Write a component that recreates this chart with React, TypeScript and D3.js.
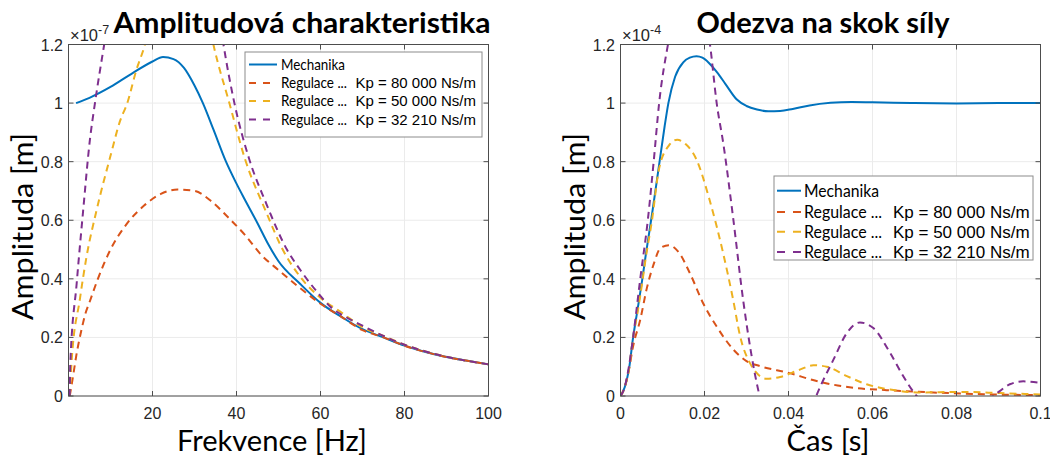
import React from 'react';
import * as d3 from 'd3';

const W = 1050;
const H = 458;

const BLUE = '#0072BD';
const RED = '#D95319';
const YELLOW = '#EDB120';
const PURPLE = '#7E2F8E';

// amplitudova charakteristika: frekvence [Hz], amplituda [x1e-7 m]
const freqMech = [1.8, 5, 10, 15, 20, 22.5, 25, 27.5, 30, 32, 34.5, 37.5, 40, 42, 45, 47.5, 50, 55, 60, 65, 70, 75, 80, 85, 90, 95, 100];
const ampMech = [1.0, 1.018, 1.055, 1.1, 1.142, 1.157, 1.15, 1.12, 1.06, 1.0, 0.91, 0.8, 0.725, 0.67, 0.59, 0.52, 0.46, 0.385, 0.318, 0.27, 0.228, 0.2, 0.172, 0.15, 0.133, 0.12, 0.108];

const freq80 = [0.3, 1, 2, 3, 4, 5, 7, 10, 14, 18, 22, 26, 30, 34, 38, 42, 46, 50, 55, 60, 65, 70, 75, 80, 85, 90, 95, 100];
const amp80 = [0.0, 0.06, 0.15, 0.22, 0.28, 0.32, 0.4, 0.5, 0.59, 0.65, 0.69, 0.705, 0.7, 0.665, 0.61, 0.55, 0.48, 0.43, 0.37, 0.315, 0.27, 0.225, 0.2, 0.172, 0.15, 0.133, 0.12, 0.108];

const freq50 = [0.3, 0.75, 2.7, 4.3, 6.7, 10, 12.3, 14, 16.2, 18, 22, 26, 30, 34.5, 38.3, 42, 47, 51, 55, 60, 65, 70, 75, 80, 85, 90, 95, 100];
const amp50 = [0, 0.12, 0.33, 0.476, 0.635, 0.82, 0.94, 1.0, 1.115, 1.19, 1.45, 1.65, 1.55, 1.2, 1.0, 0.81, 0.63, 0.5, 0.41, 0.335, 0.285, 0.235, 0.205, 0.175, 0.152, 0.134, 0.12, 0.108];

const freq32 = [0.3, 0.4, 1.95, 3.5, 5.1, 6.3, 8.5, 12, 18, 24, 30, 34, 36.9, 39.5, 43, 47, 52, 55.2, 59.5, 62.7, 66, 70, 75, 80, 85, 90, 95, 100];
const amp32 = [0, 0.1, 0.385, 0.635, 0.875, 1.0, 1.2, 1.5, 2.0, 2.3, 2.0, 1.5, 1.2, 1.0, 0.81, 0.66, 0.5, 0.43, 0.35, 0.3, 0.27, 0.24, 0.205, 0.175, 0.152, 0.134, 0.12, 0.108];

// odezva na skok sily: cas [s], amplituda [x1e-4 m]
const timeMech = [0, 0.001, 0.002, 0.003, 0.004, 0.0052, 0.006, 0.0075, 0.0093, 0.0105, 0.0114, 0.013, 0.015, 0.0165, 0.0181, 0.0195, 0.021, 0.023, 0.025, 0.0277, 0.03, 0.0325, 0.0352, 0.038, 0.041, 0.045, 0.05, 0.055, 0.06, 0.065, 0.07, 0.08, 0.09, 0.1];
const stepMech = [0, 0.03, 0.09, 0.2, 0.29, 0.4, 0.48, 0.62, 0.8, 0.92, 1.0, 1.09, 1.14, 1.155, 1.16, 1.155, 1.138, 1.105, 1.065, 1.012, 0.99, 0.978, 0.972, 0.973, 0.98, 0.992, 1.001, 1.004, 1.003, 1.001, 1.0, 0.999, 1.0, 1.0];

const time80 = [0, 0.001, 0.002, 0.003, 0.0047, 0.0063, 0.0079, 0.0095, 0.0115, 0.0139, 0.0165, 0.0197, 0.0229, 0.0269, 0.03, 0.0332, 0.04, 0.0467, 0.0554, 0.0634, 0.0745, 0.0864, 0.1];
const step80 = [0, 0.03, 0.09, 0.17, 0.26, 0.37, 0.45, 0.505, 0.515, 0.49, 0.42, 0.316, 0.237, 0.158, 0.119, 0.102, 0.079, 0.051, 0.028, 0.02, 0.012, 0.006, 0.003];

const time50 = [0, 0.001, 0.002, 0.003, 0.004, 0.0052, 0.006, 0.0075, 0.0091, 0.0115, 0.0135, 0.0155, 0.018, 0.0212, 0.0244, 0.0268, 0.0285, 0.0308, 0.0348, 0.038, 0.0427, 0.0459, 0.0491, 0.0539, 0.0586, 0.0642, 0.0713, 0.0808, 0.0904, 0.1];
const step50 = [0, 0.03, 0.09, 0.2, 0.28, 0.39, 0.47, 0.6, 0.77, 0.855, 0.875, 0.86, 0.81, 0.67, 0.49, 0.33, 0.203, 0.113, 0.059, 0.065, 0.09, 0.105, 0.1, 0.068, 0.04, 0.022, 0.012, 0.014, 0.01, 0.005];

const time32 = [0, 0.001, 0.002, 0.003, 0.0047, 0.0065, 0.0079, 0.0092, 0.0113, 0.013, 0.016, 0.019, 0.0213, 0.0229, 0.0245, 0.0268, 0.0292, 0.0328, 0.036, 0.04, 0.044, 0.0466, 0.0507, 0.0539, 0.057, 0.0602, 0.0642, 0.0673, 0.0705, 0.075, 0.08, 0.085, 0.0888, 0.0927, 0.0959, 0.1];
const step32 = [0, 0.03, 0.1, 0.2, 0.4, 0.6, 0.8, 1.0, 1.2, 1.32, 1.4, 1.36, 1.2, 1.0, 0.86, 0.61, 0.328, 0.02, -0.12, -0.17, -0.1, 0, 0.124, 0.215, 0.251, 0.232, 0.147, 0.068, 0, -0.05, -0.07, -0.04, 0, 0.04, 0.05, 0.045];

const yTicks = [0, 0.2, 0.4, 0.6, 0.8, 1, 1.2];
const freqTicks = [20, 40, 60, 80, 100];
const timeTicks = [0, 0.02, 0.04, 0.06, 0.08, 0.1];

const legendNames = ['Mechanika', 'Regulace ...', 'Regulace ...', 'Regulace ...'];
const legendKp = ['', 'Kp = 80 000 Ns/m', 'Kp = 50 000 Ns/m', 'Kp = 32 210 Ns/m'];
const colors = [BLUE, RED, YELLOW, PURPLE];

const zip = (xs: number[], ys: number[]) => xs.map((v, i) => [v, ys[i]] as [number, number]);

const TICK_FONT = '"Liberation Sans", Arial, sans-serif';
const LABEL_FONT = 'Lato, "Open Sans", sans-serif';

function Panel(p: any) {
  const { id, left, right, top, bottom, xDomain, xTicks, xFmt, series } = p;
  const x = d3.scaleLinear().domain(xDomain).range([left, right]);
  const y = d3.scaleLinear().domain([0, 1.2]).range([bottom, top]);
  const line = d3.line<[number, number]>()
    .x(d => x(d[0]))
    .y(d => y(d[1]))
    .curve(d3.curveMonotoneX);
  const tl = 5;
  const lg = p.legend;

  return (
    <g>
      <defs>
        <clipPath id={id}>
          <rect x={left} y={top} width={right - left} height={bottom - top} />
        </clipPath>
      </defs>
      <rect x={left} y={top} width={right - left} height={bottom - top} fill="#fff" />
      {/* grid */}
      {xTicks.map((t: number) => (
        <line key={'gx' + t} x1={x(t)} x2={x(t)} y1={top} y2={bottom} stroke="#ebebeb" strokeWidth={1} />
      ))}
      {yTicks.map(t => (
        <line key={'gy' + t} x1={left} x2={right} y1={y(t)} y2={y(t)} stroke="#ebebeb" strokeWidth={1} />
      ))}
      {/* curves */}
      <g clipPath={`url(#${id})`}>
        {series.map((s: [number, number][], i: number) => (
          <path key={i} d={line(s) || ''} fill="none" stroke={colors[i]}
            strokeWidth={2} strokeDasharray={i === 0 ? undefined : '7,5'} />
        ))}
      </g>
      {/* box and ticks */}
      <rect x={left} y={top} width={right - left} height={bottom - top} fill="none" stroke="#4d4d4d" strokeWidth={1} />
      {xTicks.map((t: number) => (
        <g key={'tx' + t}>
          <line x1={x(t)} x2={x(t)} y1={bottom} y2={bottom - tl} stroke="#4d4d4d" />
          <line x1={x(t)} x2={x(t)} y1={top} y2={top + tl} stroke="#4d4d4d" />
          <text x={x(t)} y={bottom + 22.5} textAnchor="middle" fontSize={16} fill="#262626" fontFamily={TICK_FONT}>
            {xFmt(t)}
          </text>
        </g>
      ))}
      {yTicks.map(t => (
        <g key={'ty' + t}>
          <line x1={left} x2={left + tl} y1={y(t)} y2={y(t)} stroke="#4d4d4d" />
          <line x1={right} x2={right - tl} y1={y(t)} y2={y(t)} stroke="#4d4d4d" />
          <text x={left - 5.5} y={y(t) + 6} textAnchor="end" fontSize={16} fill="#262626" fontFamily={TICK_FONT}>
            {String(t)}
          </text>
        </g>
      ))}
      {/* exponent */}
      <text x={left + 1.5} y={top - 4} fontSize={16.5} fill="#262626" fontFamily={TICK_FONT}>
        ×10<tspan dy={-7} fontSize={12.5}>{p.exponent}</tspan>
      </text>
      {/* title */}
      <text x={p.titleX} y={33} textAnchor="middle" fontSize={29} fontWeight={700} fill="#000"
        fontFamily={LABEL_FONT} textLength={p.titleLen} lengthAdjust="spacingAndGlyphs">
        {p.title}
      </text>
      {/* axis labels */}
      <text x={p.xLabelX} y={450.5} textAnchor="middle" fontSize={28} fill="#000"
        fontFamily={LABEL_FONT} textLength={p.xLabelLen} lengthAdjust="spacingAndGlyphs">
        {p.xLabel}
      </text>
      <text transform={`translate(${p.yLabelX},226.5) rotate(-90)`} textAnchor="middle" fontSize={28} fill="#000"
        fontFamily={LABEL_FONT} textLength={187} lengthAdjust="spacingAndGlyphs">
        Amplituda [m]
      </text>
      {/* legend */}
      <rect x={lg.x} y={lg.y} width={lg.w} height={lg.h} fill="#fff" stroke="#8c8c8c" strokeWidth={1} />
      {legendNames.map((name, i) => (
        <g key={'lg' + i}>
          <line x1={lg.s0} x2={lg.s1} y1={lg.rows[i]} y2={lg.rows[i]} stroke={colors[i]} strokeWidth={2}
            strokeDasharray={i === 0 ? undefined : lg.dash} />
          <text x={lg.tx} y={lg.rows[i] + lg.nameSize * 0.35} fontSize={lg.nameSize} fill="#000" fontFamily={LABEL_FONT}
            textLength={i === 0 ? lg.mechLen : lg.regLen} lengthAdjust="spacingAndGlyphs">
            {name}
          </text>
          {legendKp[i] && (
            <text x={lg.kx} y={lg.rows[i] + lg.kpSize * 0.36} fontSize={lg.kpSize} fill="#000" fontFamily={TICK_FONT}>
              {legendKp[i]}
            </text>
          )}
        </g>
      ))}
    </g>
  );
}

export default function App() {
  const freqSeries = [zip(freqMech, ampMech), zip(freq80, amp80), zip(freq50, amp50), zip(freq32, amp32)];
  const timeSeries = [zip(timeMech, stepMech), zip(time80, step80), zip(time50, step50), zip(time32, step32)];

  return (
    <svg width={W} height={H} style={{ position: 'absolute', left: 0, top: 0, background: '#fff' }}>
      <rect width={W} height={H} fill="#fff" />
      <Panel
        id="clipA" left={68.5} right={488.5} top={44.5} bottom={396}
        xDomain={[0, 100]} xTicks={freqTicks} xFmt={(t: number) => String(t)}
        series={freqSeries}
        title="Amplitudová charakteristika" titleX={302} titleLen={377}
        xLabel="Frekvence [Hz]" xLabelX={272} xLabelLen={190}
        yLabelX={33} exponent="-7"
        legend={{ x: 245, y: 52, w: 237, h: 85, rows: [64.5, 83, 101, 119.5], s0: 249, s1: 277, tx: 281, kx: 355.5,
          nameSize: 15, kpSize: 15, dash: '7,7', mechLen: 64, regLen: 66 }}
      />
      <Panel
        id="clipB" left={620.5} right={1040.5} top={44.5} bottom={396}
        xDomain={[0, 0.1]} xTicks={timeTicks} xFmt={(t: number) => String(+t.toFixed(2))}
        series={timeSeries}
        title="Odezva na skok síly" titleX={823} titleLen={253}
        xLabel="Čas [s]" xLabelX={828} xLabelLen={83}
        yLabelX={585} exponent="-4"
        legend={{ x: 774, y: 176, w: 259, h: 84, rows: [190.7, 212, 231.7, 252], s0: 777, s1: 801, tx: 804, kx: 893,
          nameSize: 17.5, kpSize: 17, dash: '8,8', mechLen: 75, regLen: 78 }}
      />
    </svg>
  );
}
